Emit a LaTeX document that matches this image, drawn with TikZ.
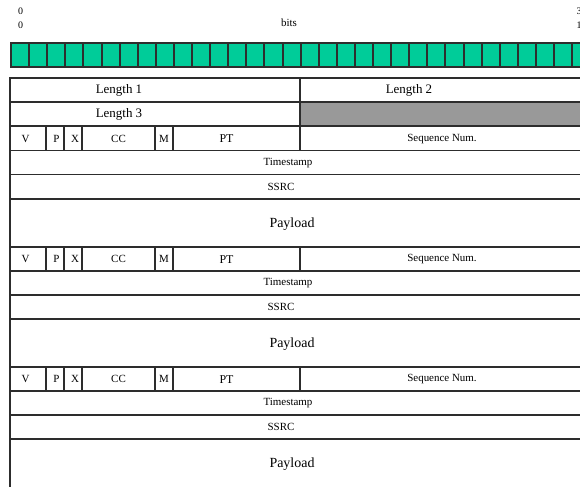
\documentclass[tikz,border=0pt]{standalone}
\usepackage{fontspec}
\setmainfont{Liberation Serif}
\definecolor{bitfill}{RGB}{0,204,153}
\definecolor{rulegray}{RGB}{45,45,45}
\definecolor{padgray}{RGB}{153,153,153}

\begin{document}
\begin{tikzpicture}[x=1bp,y=-1bp,
  frame/.style={draw=rulegray, line width=1.9bp},
  bitcell/.style={draw=rulegray, line width=2bp, fill=bitfill, inner sep=0pt,
    minimum width=18.1bp, minimum height=24.3bp, anchor=north west},
  txt/.style={inner sep=0pt, text=black},
  bigtxt/.style={txt, font=\fontsize{13}{13}\selectfont},
  paytxt/.style={txt, font=\fontsize{14}{14}\selectfont},
  pttxt/.style={txt, font=\fontsize{12}{12}\selectfont},
  smalltxt/.style={txt, font=\fontsize{11}{11}\selectfont},
  numtxt/.style={txt, font=\fontsize{10}{10}\selectfont}]
\useasboundingbox (0,0) rectangle (580,487);

% bit ruler
\node[numtxt] (tens0) at (20.5,11) {0};
\node[numtxt] (ones0) at (20.5,25) {0};
\node[numtxt] (tens31) at (579,11) {3};
\node[numtxt] (ones31) at (579,25) {1};
\node[smalltxt] (bits) at (289,23) {bits};
\foreach \k in {0,...,31}
  \node[bitcell] (bit\k) at ({10+18.1*\k},41.7) {};

% header rows
\fill[padgray] (299.6,102.4) rectangle (590,126.4);
\draw[frame] (10,78.3) rectangle (590,488.5);
\draw[frame] (10,102.4) -- (590,102.4);
\draw[frame] (10,126.4) -- (590,126.4);
\draw[frame] (299.6,78.3) -- (299.6,126.4);
\node[bigtxt] (len1) at (119,90.6) {Length 1};
\node[bigtxt] (len2) at (409,90.6) {Length 2};
\node[bigtxt] (len3) at (119,114.6) {Length 3};

% three RTP packets
\foreach \T [count=\i] in {126.4,246.8,367.1} {
  \draw[frame] (10,{\T+24.07}) -- (590,{\T+24.07});
  \draw[frame] (10,{\T+48.14}) -- (590,{\T+48.14});
  \draw[frame] (10,{\T+72.21}) -- (590,{\T+72.21});
  \draw[frame] (10,{\T+120.35}) -- (590,{\T+120.35});
  \foreach \x in {46.2,64.3,82.4,154.8,172.9,299.6}
    \draw[frame] (\x,\T) -- (\x,{\T+24.07});
  \node[smalltxt] (v\i)   at (25.5,{\T+12.3}) {V};
  \node[smalltxt] (p\i)   at (56.5,{\T+12.3}) {P};
  \node[smalltxt] (x\i)   at (75,{\T+12.3}) {X};
  \node[smalltxt] (cc\i)  at (118.5,{\T+12.3}) {CC};
  \node[smalltxt] (m\i)   at (164,{\T+12.3}) {M};
  \node[pttxt]    (pt\i)  at (226.5,{\T+12.3}) {PT};
  \node[smalltxt] (seq\i) at (442,{\T+12.3}) {Sequence Num.};
  \node[smalltxt] (ts\i)  at (288,{\T+36.3}) {Timestamp};
  \node[smalltxt] (ssrc\i) at (281,{\T+60.3}) {SSRC};
  \node[paytxt]   (pay\i) at (292,{\T+97.5}) {Payload};
}
\end{tikzpicture}
\end{document}
